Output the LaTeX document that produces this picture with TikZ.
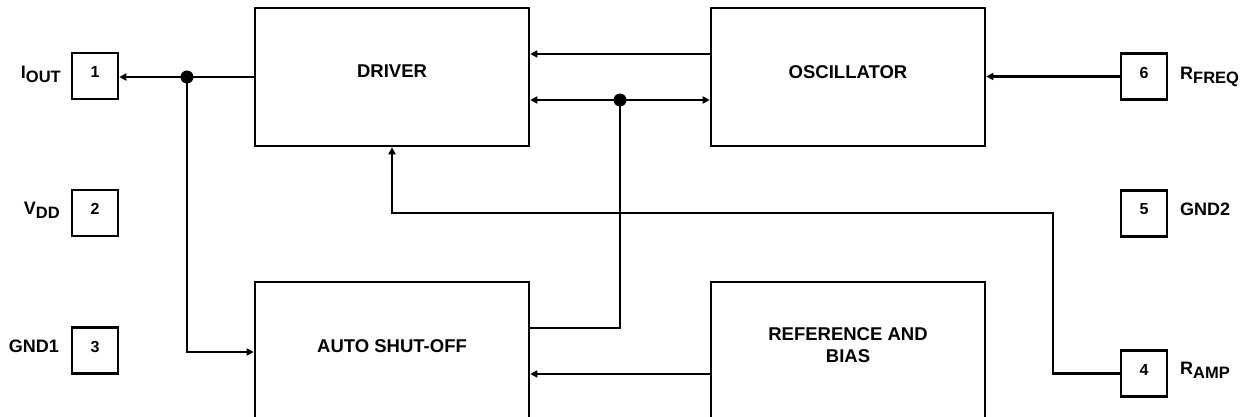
\documentclass[tikz,border=0pt]{standalone}
\usepackage{fontspec}
\setmainfont{Liberation Sans}
\usetikzlibrary{arrows.meta}
\newcommand\pinsub[1]{\raisebox{-4pt}{\fontsize{16.5}{16}\selectfont #1}}
\begin{document}
\begin{tikzpicture}[x=1pt,y=-1pt,
  >={Triangle[length=7pt,width=7pt]},
  blk/.style={draw, line width=2.6pt, minimum width=274pt, minimum height=138pt, inner sep=0pt},
  pinbox/.style={draw, line width=2.5pt, minimum size=46pt, inner sep=0pt},
  lbl/.style={font=\fontsize{18.5}{22}\selectfont\bfseries, inner sep=0pt, anchor=base},
  num/.style={font=\fontsize{16}{16}\selectfont\bfseries, inner sep=0pt, anchor=base},
  pl/.style={font=\fontsize{18}{20}\selectfont\bfseries, inner sep=0pt},
  wire/.style={line width=2.4pt},
  arr/.style={wire,->},
  jdot/.style={circle, fill, inner sep=0pt, minimum size=13pt}
]
\useasboundingbox (0,0) rectangle (1247,417);
\clip (0,0) rectangle (1247,417);

% blocks
\node[blk] (drv) at (392,77) {};
\node[blk] (osc) at (848,77) {};
\node[blk, minimum height=160pt] (ash) at (392,362) {};
\node[blk, minimum height=160pt] (ref) at (848,362) {};
\node[lbl] (drvT) at (392,78) {DRIVER};
\node[lbl] (oscT) at (848,79) {OSCILLATOR};
\node[lbl] (ashT) at (392,352) {AUTO SHUT-OFF};
\node[lbl] (refT1) at (848,340) {REFERENCE AND};
\node[lbl] (refT2) at (848,362) {BIAS};

% pins
\node[pinbox] (p1) at (95,76) {};
\node[pinbox] (p2) at (95,213) {};
\node[pinbox] (p3) at (95,350.5) {};
\node[pinbox] (p6) at (1144,76.5) {};
\node[pinbox] (p5) at (1144,213.5) {};
\node[pinbox] (p4) at (1144,373.5) {};
\node[num] (n1) at (95,78) {1};
\node[num] (n2) at (95,214) {2};
\node[num] (n3) at (95,352) {3};
\node[num] (n6) at (1144,78.5) {6};
\node[num] (n5) at (1144,214.5) {5};
\node[num] (n4) at (1144,375) {4};
\node[pl, anchor=base east] (l1) at (61,79) {I\pinsub{OUT}};
\node[pl, anchor=base east] (l2) at (60,214) {V\pinsub{DD}};
\node[pl, anchor=base east] (l3) at (59,352) {GND1};
\node[pl, anchor=base west] (l6) at (1180,80) {R\pinsub{FREQ}};
\node[pl, anchor=base west] (l5) at (1180,215) {GND2};
\node[pl, anchor=base west] (l4) at (1180,374) {R\pinsub{AMP}};

% connectors
\coordinate (j1) at (187,77);
\coordinate (j2) at (620,100);
\draw[arr] (drv.west) -- (p1.east |- drv.west);
\draw[arr] (j1) |- (ash.west |- 0,352);
\draw[arr] (osc.west |- 0,54) -- (drv.east |- 0,54);
\draw[wire,<->] (drv.east |- 0,100) -- (osc.west |- 0,100);
\draw[wire] (j2) |- (ash.east |- 0,328);
\draw[arr] (ref.west |- 0,374) -- (ash.east |- 0,374);
\draw[arr] (p6.west) -- (osc.east |- p6.west);
\draw[arr] (p4.west) -| (1053,213) -| (drv.south);
\node[jdot] (d1) at (j1) {};
\node[jdot] (d2) at (j2) {};
\end{tikzpicture}
\end{document}
